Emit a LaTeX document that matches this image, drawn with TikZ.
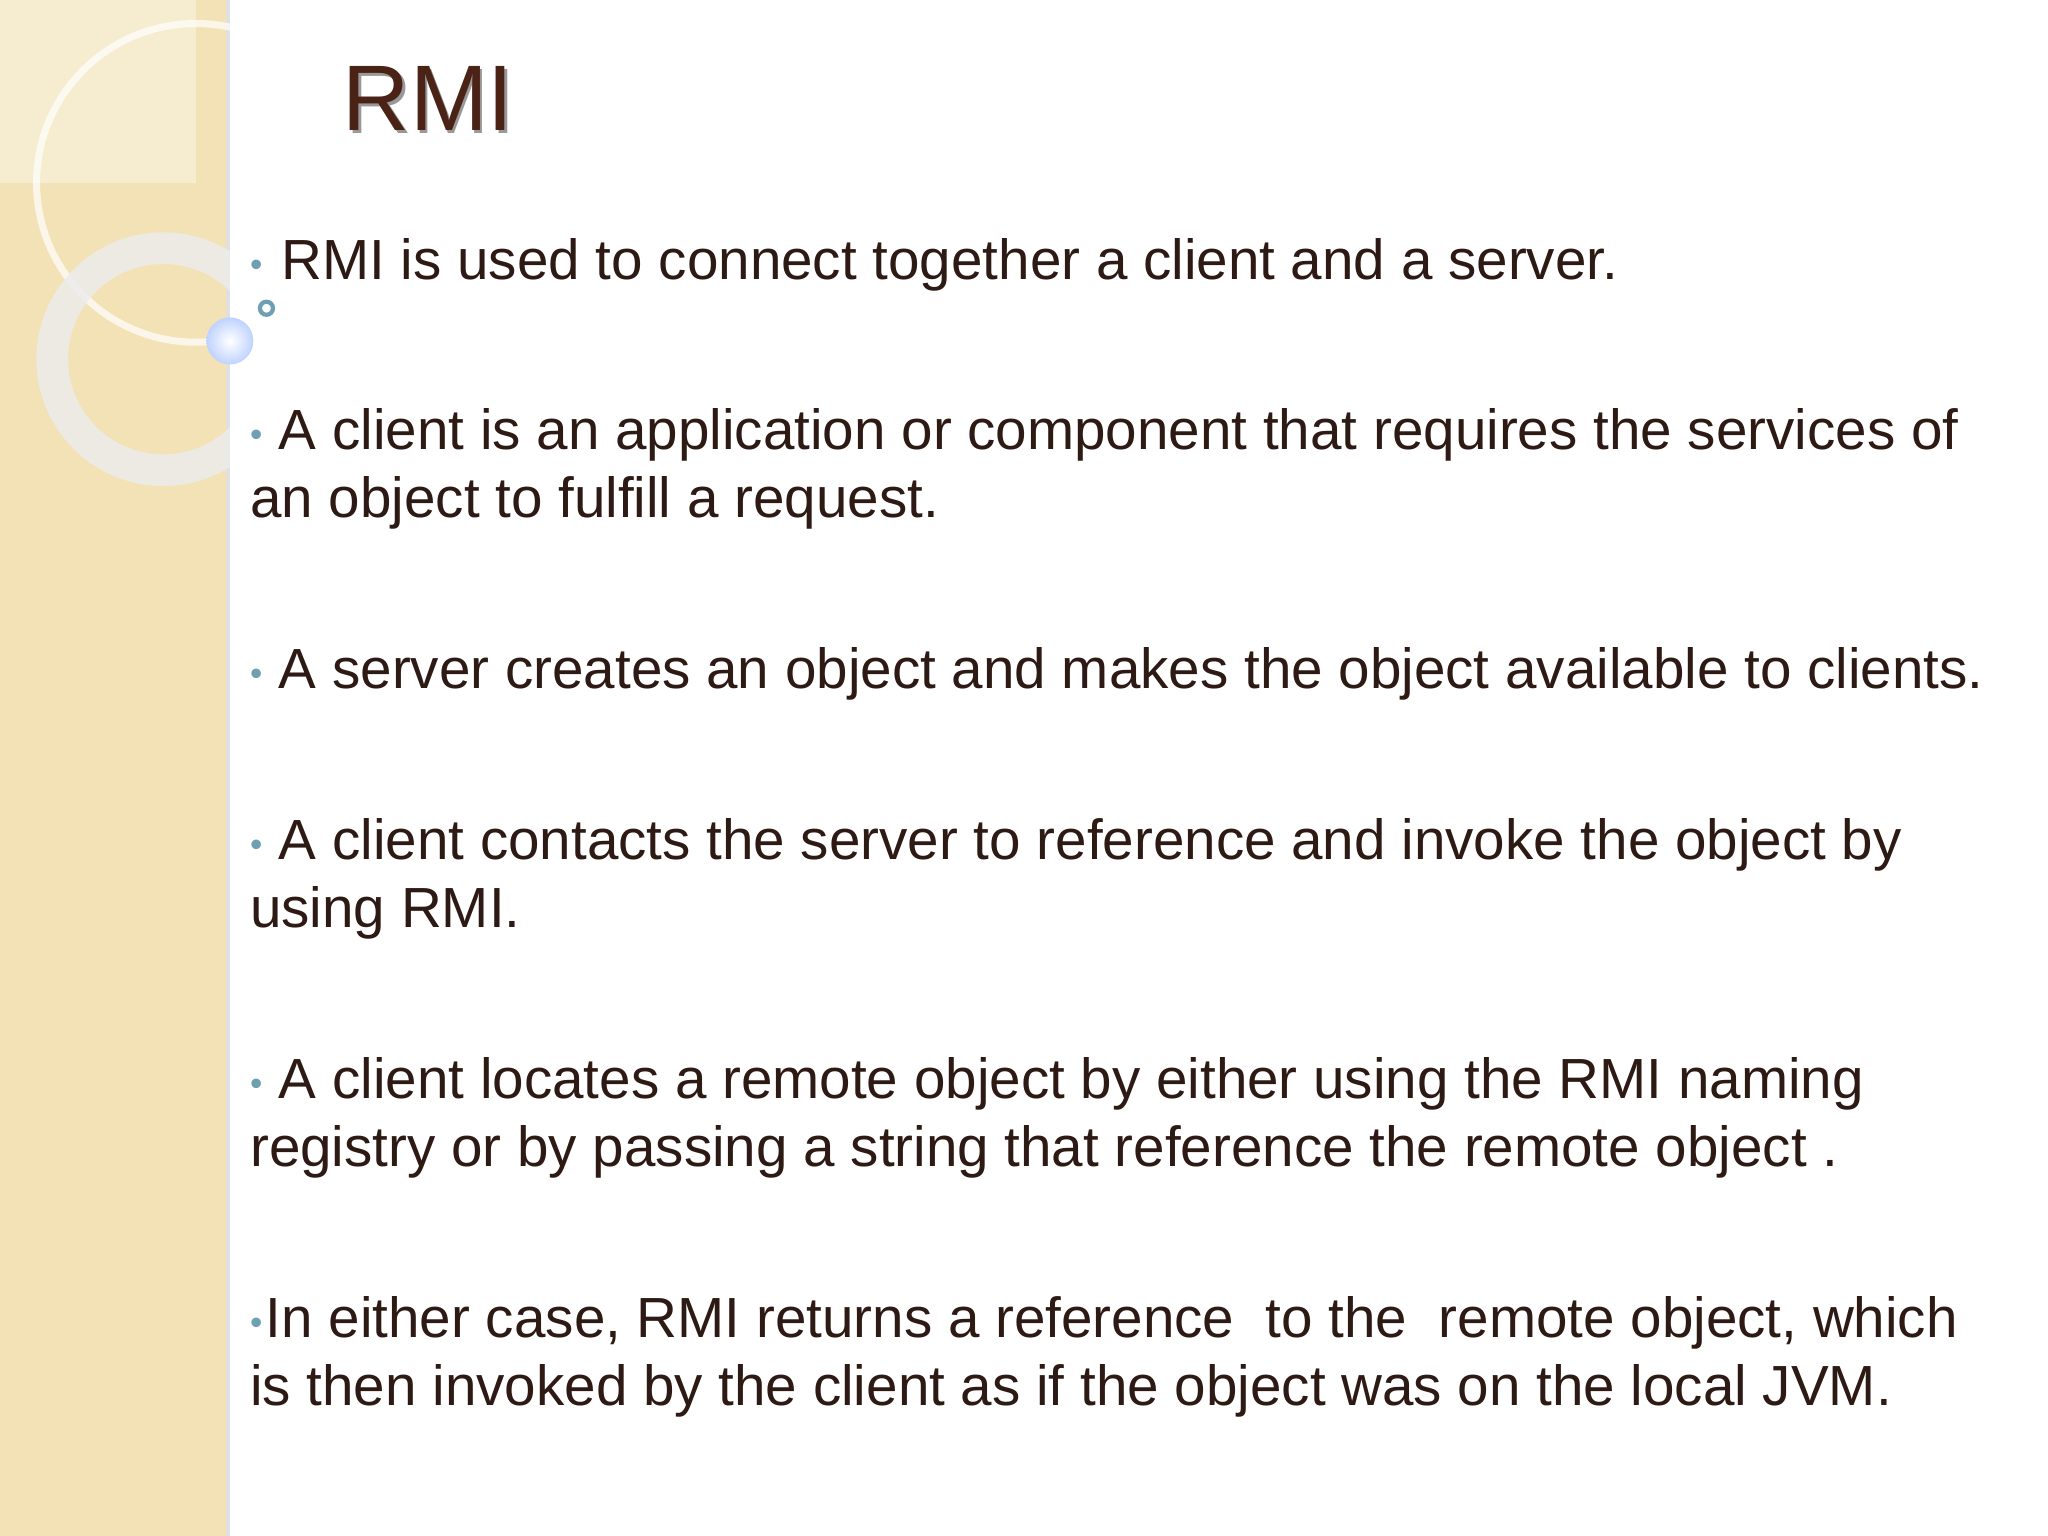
\documentclass[tikz,border=0pt]{standalone}
\usepackage{fontspec}
\setmainfont{Liberation Sans}
\begin{document}
\begin{tikzpicture}[x=0.013061cm,y=-0.013061cm,
  body/.style={anchor=base west,inner sep=0pt,font=\fontsize{16.1}{19}\selectfont,text=txt},
  bul/.style={anchor=base west,inner sep=0pt,font=\fontsize{10}{12}\selectfont,text=bulc}]
\definecolor{txt}{HTML}{2E1A14}
\definecolor{bulc}{HTML}{6E9FB2}
\definecolor{strip}{HTML}{F2E2B6}
\definecolor{ttl}{HTML}{4B2216}
\useasboundingbox (0,0) rectangle (1568,1176);
\fill[white] (0,0) rectangle (1568,1176);
\fill[strip] (0,0) rectangle (173,1176);
\fill[black!12] (173,0) rectangle (176,1176);
\fill[white,opacity=0.35] (0,0) rectangle (150,140);
\begin{scope}
\clip (0,0) rectangle (176,1176);
\draw[white,opacity=0.7,line width=2pt] (150,140) circle (122);
\draw[white!85!gray,line width=9pt,opacity=0.85] (125,275) circle (85);
\end{scope}
\shade[inner color=white,outer color=cyan!30!blue!25] (176,261) circle (18);
\draw[bulc,line width=1.2pt] (204,236) circle (5);
\node[anchor=base west,inner sep=0pt,text=black!40,font=\fontsize{26.5}{30}\selectfont] (sh) at (264,102) {RMI};
\node[anchor=base west,inner sep=0pt,text=ttl,font=\fontsize{26.5}{30}\selectfont] (title) at (262,100) {RMI};
\node[bul] (b1) at (191,212) {•};
\node[body] (l1) at (215,214) {RMI is used to connect together a client and a server.};
\node[bul] (b2) at (191,342) {•};
\node[body] (l2a) at (213,344) {A client is an application or component that requires the services of};
\node[body] (l2b) at (191,396) {an object to fulfill a request.};
\node[bul] (b3) at (191,525) {•};
\node[body] (l3) at (213,527) {A server creates an object and makes the object available to clients.};
\node[bul] (b4) at (191,656) {•};
\node[body] (l4a) at (213,658) {A client contacts the server to reference and invoke the object by};
\node[body] (l4b) at (191,710) {using RMI.};
\node[bul] (b5) at (191,839) {•};
\node[body] (l5a) at (213,841) {A client locates a remote object by either using the RMI naming};
\node[body] (l5b) at (191,893) {registry or by passing a string that reference the remote object .};
\node[bul] (b6) at (191,1022) {•};
\node[body] (l6a) at (203,1024) {In either case, RMI returns a reference \ to the \ remote object, which};
\node[body] (l6b) at (191,1076) {is then invoked by the client as if the object was on the local JVM.};
\end{tikzpicture}
\end{document}
